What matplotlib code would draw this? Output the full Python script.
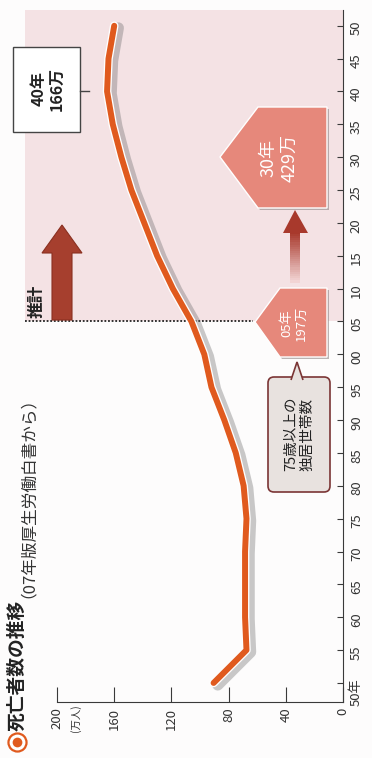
import matplotlib
matplotlib.use("Agg")
import matplotlib.pyplot as plt
from matplotlib import patches, transforms as mtransforms
from matplotlib import patheffects as pe
from matplotlib.lines import Line2D

plt.rcParams['font.family'] = ['Noto Sans CJK JP', 'DejaVu Sans']

# deaths per year (10,000 people); 2005 onward is the projection
years = [1950, 1955, 1960, 1965, 1970, 1975, 1980, 1985, 1990, 1995, 2000,
         2005, 2010, 2015, 2020, 2025, 2030, 2035, 2040, 2045, 2050]
deaths = [90.5, 67.5, 68.5, 68.5, 68.5, 67.5, 69.5, 75, 83, 92, 97,
          106, 119, 130, 139, 148, 155, 161, 165, 164, 160]

year_ticks = list(range(1950, 2051, 5))
year_labels = ['50年'] + ['{:02d}'.format(y % 100) for y in year_ticks[1:]]
value_ticks = [0, 40, 80, 120, 160, 200]
value_labels = ['0', '40', '80', '120', '160', '200']
projection_start = 2005

ORANGE = '#e05a1e'
PINK_BG = '#f4e2e4'
SALMON = '#e6887b'
DARK_RED = '#a63f2e'
AXIS = '#3a3a3a'

W, H = 372, 758
fig = plt.figure(figsize=(W / 100, H / 100), dpi=100, facecolor='#fdfcfc')
# pixel coordinates of the picture (origin top-left) for the decorations
pix = mtransforms.Affine2D().scale(1 / W, -1 / H).translate(0, 1) + fig.transFigure

ax = fig.add_axes([25 / W, 56 / H, 318 / W, 692 / H])
ax.set_facecolor('none')
ax.set_xlim(222.4, 0)
ax.set_ylim(1947.1, 2052.4)

# projection area
ax.axhspan(projection_start, 2052.4, color=PINK_BG, zorder=0, lw=0)
ax.plot([222.4, 63], [projection_start, projection_start], ls=(0, (1, 1)),
        color='#222222', lw=1.3, zorder=2)

ax.plot(deaths, years, color=ORANGE, lw=4.3, solid_capstyle='round',
        solid_joinstyle='round', zorder=5,
        path_effects=[pe.SimpleLineShadow(offset=(3, -1.5), shadow_color='#666666',
                                          alpha=0.35, linewidth=8),
                      pe.Stroke(linewidth=6.2, foreground='white'),
                      pe.Normal()])

for side in ['left', 'top']:
    ax.spines[side].set_visible(False)
ax.spines['bottom'].set_bounds(0, 200)
ax.spines['bottom'].set_color(AXIS)
ax.spines['right'].set_color(AXIS)

ax.yaxis.tick_right()
ax.set_yticks(year_ticks, year_labels, rotation=90, fontsize=9.5, color='#333333')
ax.tick_params(axis='y', direction='in', length=4, pad=5, color=AXIS)
ax.set_xticks(value_ticks, value_labels, rotation=90, fontsize=9.5, color='#333333')
ax.tick_params(axis='x', direction='in', length=11, pad=4, color=AXIS)
fig.text(76, 718, '(万人)', transform=pix, rotation=90, ha='center', va='center',
         fontsize=7.5, color='#333333')

# title with round bullet
fig.add_artist(Line2D([17], [742], transform=pix, marker='o', ms=13,
                      mfc='white', mec=ORANGE, mew=1.6))
fig.add_artist(Line2D([17], [742], transform=pix, marker='o', ms=7,
                      mfc=ORANGE, mec='none'))
title = fig.text(17, 731, '死亡者数の推移', transform=pix, rotation=90, ha='center',
                 va='bottom', fontsize=13.5, fontweight='bold', color='#222222')
fig.canvas.draw()
title_top = title.get_window_extent().y1 / H
fig.text(19 / W, title_top + 2 / H, '（07年版厚生労働白書から）', rotation=90,
         ha='center', va='bottom', fontsize=12, color='#333333')

# projection marker
fig.text(37, 301, '推計', transform=pix, rotation=90, ha='center', va='center',
         fontsize=12, fontweight='bold', color='#222222')
fig.add_artist(patches.Polygon([(52, 320), (52, 253), (42, 253), (62, 225),
                                (82, 253), (72, 253), (72, 320)],
                               closed=True, transform=pix, fc=DARK_RED,
                               ec='#8a3020', lw=0.8))

# 40年 peak label
fig.add_artist(patches.Rectangle((13, 47), 67, 85, transform=pix, fc='white',
                                 ec='#444444', lw=1))
fig.add_artist(Line2D([80, 89], [91, 91], transform=pix, color='#444444', lw=1))
fig.text(48, 89, '40年\n166万', transform=pix, rotation=90, ha='center',
         va='center', fontsize=11.5, fontweight='bold', color='#222222',
         linespacing=1.15)


def pentagon(tip, x0, x1, y0, y1, **kw):
    pts = [tip, (x0, y0), (x1, y0), (x1, y1), (x0, y1)]
    shadow = [(px + 2, py + 2) for px, py in pts]
    fig.add_artist(patches.Polygon(shadow, closed=True, transform=pix,
                                   fc='#8f8585', ec='none', alpha=0.6))
    fig.add_artist(patches.Polygon(pts, closed=True, transform=pix, fc=SALMON,
                                   ec='white', lw=1, **kw))


# households of elderly living alone
pentagon((220, 157), 258, 327, 107, 208)
fig.text(279, 158, '30年\n429万', transform=pix, rotation=90, ha='center',
         va='center', fontsize=13, color='white', linespacing=1.15)
pentagon((255, 322), 280, 327, 288, 357)
fig.text(294, 323, '05年\n197万', transform=pix, rotation=90, ha='center',
         va='center', fontsize=9.5, color='white', linespacing=1.15)

# gradient arrow between the two boxes
n = 24
top, bottom = 232, 282
c0 = matplotlib.colors.to_rgb('#a8392c')
c1 = matplotlib.colors.to_rgb('#f2d4d4')
for i in range(n):
    t = i / (n - 1)
    col = tuple(a + (b - a) * t for a, b in zip(c0, c1))
    ya = top + (bottom - top) * i / n
    fig.add_artist(patches.Rectangle((290, ya), 10, (bottom - top) / n + 0.6,
                                     transform=pix, fc=col, ec='none'))
fig.add_artist(patches.Polygon([(283, 233), (295, 210), (308, 233)], closed=True,
                               transform=pix, fc='#a8392c', ec='none'))

# callout
fig.add_artist(patches.FancyBboxPatch((268, 377), 62, 115,
                                      boxstyle='round,pad=0,rounding_size=6',
                                      transform=pix, fc='#e8e2df', ec='#7b3535',
                                      lw=1.2))
fig.add_artist(patches.Polygon([(291, 380), (297, 362), (303, 380)], closed=False,
                               transform=pix, fc='#e8e2df', ec='#7b3535', lw=1.2))
fig.text(299, 434, '75歳以上の\n独居世帯数', transform=pix, rotation=90,
         ha='center', va='center', fontsize=10.5, color='#222222',
         linespacing=1.2)

fig.savefig('out.png', dpi=100, facecolor=fig.get_facecolor())
